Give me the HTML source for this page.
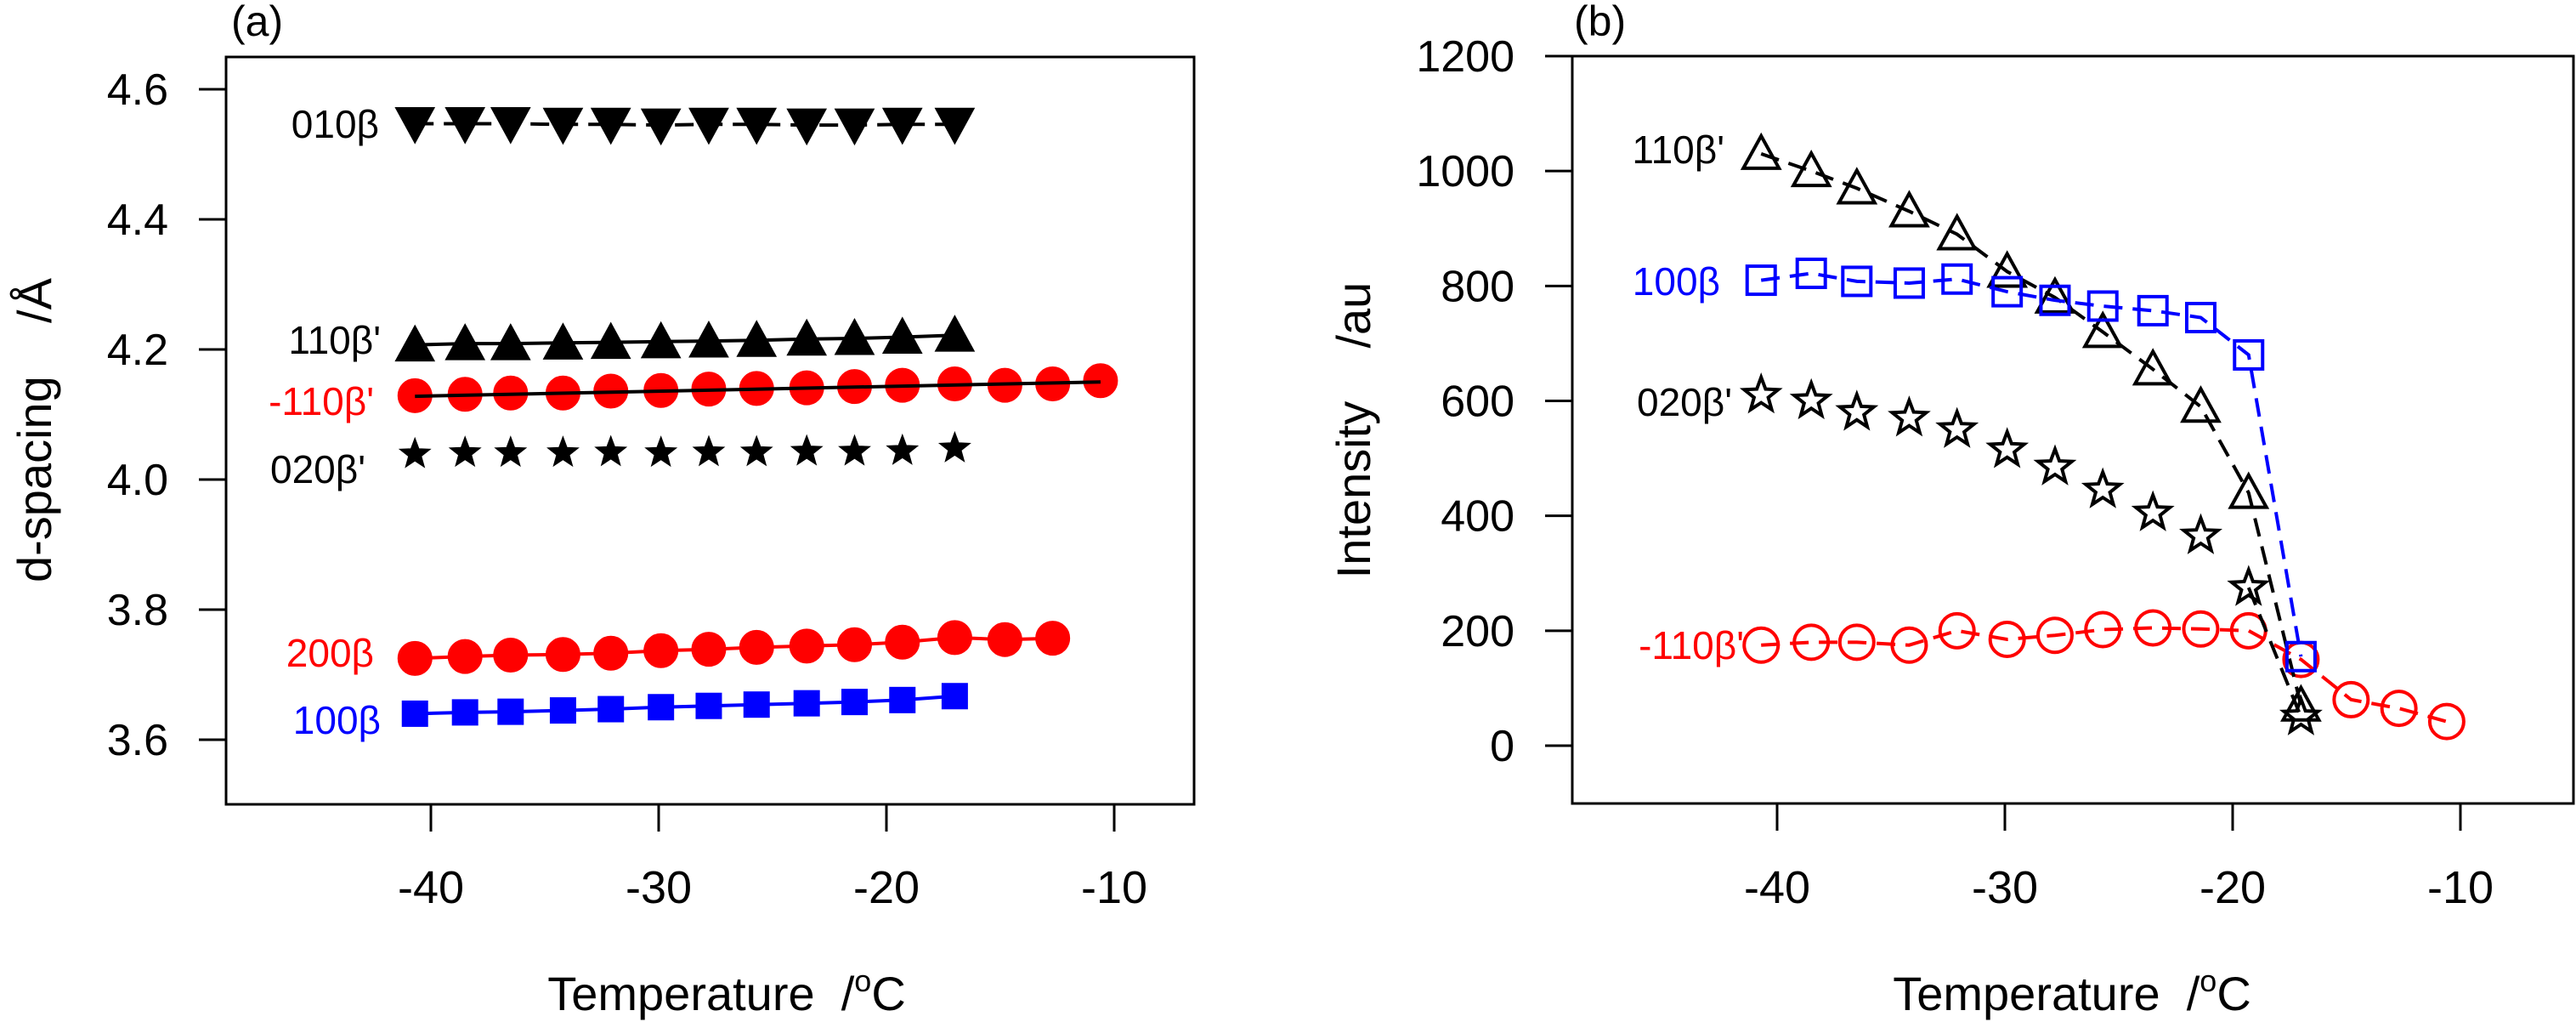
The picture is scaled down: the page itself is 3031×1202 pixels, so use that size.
<!DOCTYPE html>
<html><head><meta charset="utf-8"><style>
html,body{margin:0;padding:0;background:#fff}
svg{display:block}
text{font-family:"Liberation Sans",sans-serif}
</style></head><body>
<svg id="c" width="3031" height="1202" viewBox="0 0 3031 1202" xmlns="http://www.w3.org/2000/svg"></svg>
<script>
const temps = [-40.7,-38.5,-36.5,-34.2,-32.1,-29.9,-27.8,-25.7,-23.5,-21.4,-19.3,-17.0,-14.8,-12.7,-10.6];
const aXTicks = [-40,-30,-20,-10];
const aYTicks = [3.6,3.8,4.0,4.2,4.4,4.6];
const aYTickLabels = ["3.6","3.8","4.0","4.2","4.4","4.6"];
const d010 = [4.547,4.547,4.547,4.546,4.546,4.545,4.546,4.546,4.545,4.545,4.546,4.546];
const d110 = [4.207,4.209,4.209,4.210,4.211,4.212,4.213,4.214,4.216,4.217,4.219,4.222];
const dm110 = [4.129,4.131,4.133,4.133,4.136,4.137,4.139,4.140,4.141,4.143,4.145,4.147,4.145,4.147,4.152];
const dm110Fit = [4.128,4.150];
const d020 = [4.039,4.041,4.041,4.041,4.042,4.041,4.042,4.042,4.043,4.043,4.044,4.048];
const d200 = [3.725,3.728,3.730,3.731,3.733,3.737,3.739,3.742,3.744,3.746,3.750,3.757,3.754,3.756];
const d100 = [3.640,3.642,3.643,3.645,3.647,3.650,3.652,3.654,3.656,3.658,3.661,3.667];
const bYTicks = [0,200,400,600,800,1000,1200];
const i110 = [1030,1000,970,930,890,825,780,720,655,590,440,70];
const i100 = [810,822,808,805,812,790,775,765,757,745,680,155];
const i020 = [610,600,580,570,550,515,485,445,405,365,275,50];
const im110 = [175,180,180,175,200,185,192,202,205,203,200,150,80,65,42];

const NS="http://www.w3.org/2000/svg";
const svg=document.getElementById('c');
function el(tag,attrs,parent){const e=document.createElementNS(NS,tag);for(const k in attrs)e.setAttribute(k,attrs[k]);(parent||svg).appendChild(e);return e;}
function txt(s,attrs,parent){const e=el('text',attrs,parent);e.textContent=s;return e;}

const axA={x:t=>507+(t+40)*26.8, y:v=>105+(4.6-v)*765};
const axB={x:t=>2091+(t+40)*26.8, y:v=>877-v*(811/1200)};

function marker(g,type,cx,cy,color,filled){
  const f=filled?color:'none', sw=filled?1:4;
  let m;
  if(type==='circle') m=el('circle',{cx,cy,r:20,fill:filled?color:'none',stroke:color,'stroke-width':sw},g);
  else if(type==='square'){const s=filled?30:33;m=el('rect',{x:cx-s/2,y:cy-s/2,width:s,height:s,fill:f,stroke:color,'stroke-width':sw},g);}
  else if(type==='tri'){const w=filled?23:21,h=filled?19:17;m=el('polygon',{points:`${cx-w},${cy+h} ${cx+w},${cy+h} ${cx},${cy-h-4}`,fill:f,stroke:color,'stroke-width':sw,'stroke-linejoin':'miter'},g);}
  else if(type==='tridown'){const w=23,h=19;m=el('polygon',{points:`${cx-w},${cy-h} ${cx+w},${cy-h} ${cx},${cy+h+4}`,fill:f,stroke:color,'stroke-width':sw},g);}
  else if(type==='star'){const R=filled?19:21,r=R*0.42;let p=[];for(let i=0;i<10;i++){const a=-Math.PI/2+i*Math.PI/5;const rr=i%2?r:R;p.push((cx+rr*Math.cos(a)).toFixed(1)+','+(cy+rr*Math.sin(a)).toFixed(1));}m=el('polygon',{points:p.join(' '),fill:f,stroke:color,'stroke-width':sw,'stroke-linejoin':'miter'},g);}
  return m;
}
function series(ax,name,vals,type,color,filled,lineColor,dash,lineFrom){
  const g=el('g',{});
  
  
  if(lineColor){
    const s=lineFrom||0;
    const pts=vals.map((v,i)=>ax.x(temps[i]).toFixed(1)+','+ax.y(v).toFixed(1)).slice(s).join(' ');
    const a={points:pts,fill:'none',stroke:lineColor,'stroke-width':4};
    if(dash)a['stroke-dasharray']=dash;
    el('polyline',a,g);
  }
  vals.forEach((v,i)=>{const m=marker(g,type,ax.x(temps[i]),ax.y(v),color,filled);
    
    });
  return g;
}
function frame(ax,left,top,right,bottom,xTicks,yTicks,yLabels,panel){
  const g=el('g',{});
  
  
  el('rect',{x:left,y:top,width:right-left,height:bottom-top,fill:'none',stroke:'#000','stroke-width':3},g);
  xTicks.forEach(t=>{const x=ax.x(t);el('line',{x1:x,y1:bottom,x2:x,y2:bottom+32,stroke:'#000','stroke-width':3},g);
    const l=txt(String(t),{x:x,y:1062,'font-size':54,'text-anchor':'middle'},g);
    
    });
  yTicks.forEach((t,i)=>{const y=ax.y(t);el('line',{x1:left-32,y1:y,x2:left,y2:y,stroke:'#000','stroke-width':3},g);
    const l=txt(yLabels[i],{x:left-68,y:y+18,'font-size':52,'text-anchor':'end'},g);
    
    });
}

frame(axA,266,67,1405,946,aXTicks,aYTicks,aYTickLabels,'panel-a');
series(axA,'series-010b',d010,'tridown','#000',true,'#000','22 12');
series(axA,'series-110b',d110,'tri','#000',true,'#000',null);
series(axA,'series-m110b',dm110,'circle','#ff0000',true,null,null);
(function(){const l=el('line',{x1:axA.x(temps[0]),y1:axA.y(dm110Fit[0]),x2:axA.x(temps[14]),y2:axA.y(dm110Fit[1]),stroke:'#000','stroke-width':4});

})();
series(axA,'series-020b',d020,'star','#000',true,null,null);
series(axA,'series-200b',d200,'circle','#ff0000',true,'#ff0000',null);
series(axA,'series-100b',d100,'square','#0000ff',true,'#0000ff',null);

frame(axB,1850,66,3028,945,aXTicks,bYTicks,bYTicks.map(String),'panel-b');
series(axB,'series-b-m110b',im110,'circle','#ff0000',false,'#ff0000','22 12');
series(axB,'series-b-020b',i020,'star','#000',false,'#000','22 12',10);
series(axB,'series-b-110b',i110,'tri','#000',false,'#000','22 12');
series(axB,'series-b-100b',i100,'square','#0000ff',false,'#0000ff','22 12');
</script>
<div style="position:absolute;left:0;top:0;width:3031px;height:1202px;pointer-events:none">
<svg width="3031" height="1202" xmlns="http://www.w3.org/2000/svg" style="position:absolute;left:0;top:0">
<g font-family="Liberation Sans, sans-serif">
<text x="272" y="42" font-size="50">(a)</text>
<text x="1852" y="42" font-size="50">(b)</text>
<text x="446" y="162" font-size="46" text-anchor="end">010β</text>
<text x="448" y="416" font-size="46" text-anchor="end">110β'</text>
<text x="440" y="488" font-size="46" text-anchor="end" fill="#ff0000">-110β'</text>
<text x="430" y="568" font-size="46" text-anchor="end">020β'</text>
<text x="440" y="784" font-size="46" text-anchor="end" fill="#ff0000">200β</text>
<text x="448" y="863" font-size="46" text-anchor="end" fill="#0000ff">100β</text>
<text x="2029" y="192" font-size="46" text-anchor="end">110β'</text>
<text x="2024" y="347" font-size="46" text-anchor="end" fill="#0000ff">100β</text>
<text x="2038" y="489" font-size="46" text-anchor="end">020β'</text>
<text x="2052" y="775" font-size="46" text-anchor="end" fill="#ff0000">-110β'</text>
<text x="855" y="1188" font-size="56" text-anchor="middle" xml:space="preserve">Temperature  /<tspan dy="-22" font-size="36">o</tspan><tspan dy="22">C</tspan></text>
<text x="2438" y="1188" font-size="56" text-anchor="middle" xml:space="preserve">Temperature  /<tspan dy="-22" font-size="36">o</tspan><tspan dy="22">C</tspan></text>
<text transform="translate(60,506) rotate(-90)" font-size="56" text-anchor="middle" xml:space="preserve">d-spacing    /Å</text>
<text transform="translate(1612,506) rotate(-90)" font-size="56" text-anchor="middle" xml:space="preserve">Intensity    /au</text>
</g></svg></div>
</body></html>
